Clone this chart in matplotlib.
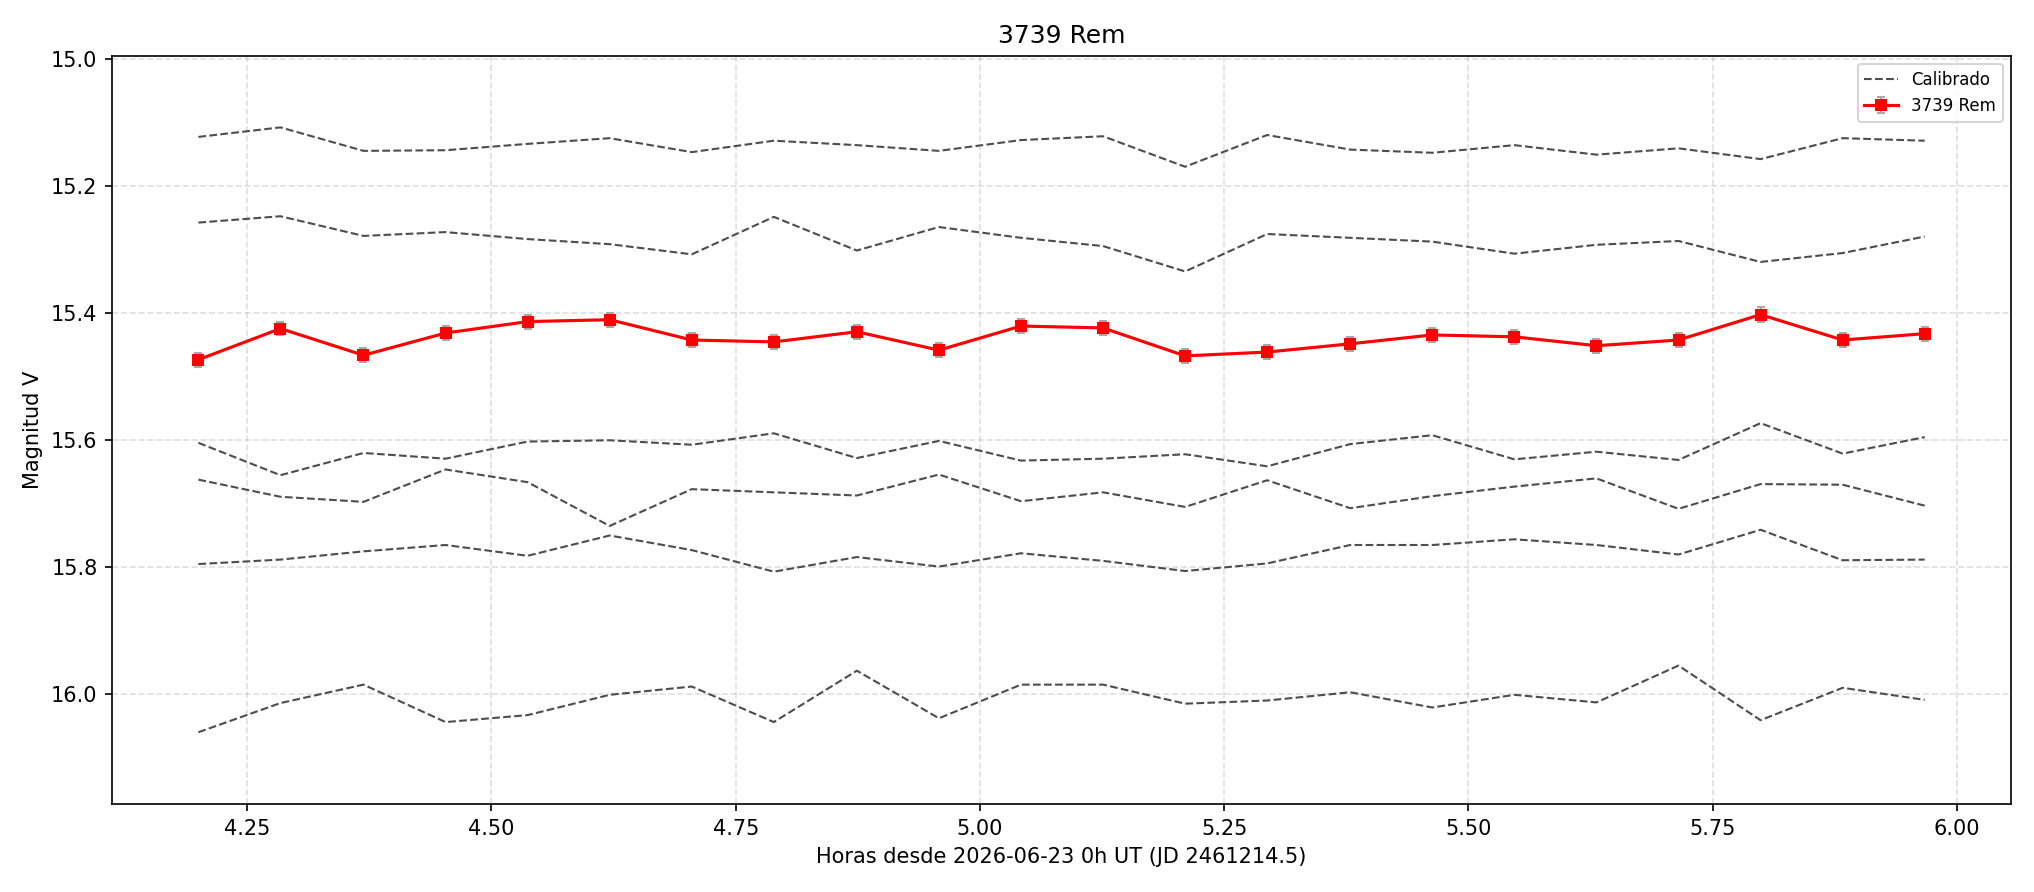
import matplotlib
matplotlib.use("Agg")
import matplotlib.pyplot as plt

hours = [4.200, 4.284, 4.369, 4.453, 4.537, 4.621, 4.705, 4.789, 4.874, 4.958, 5.042,
         5.126, 5.210, 5.294, 5.379, 5.463, 5.547, 5.631, 5.715, 5.799, 5.883, 5.967]

cal1 = [15.123, 15.108, 15.145, 15.144, 15.134, 15.125, 15.147, 15.129, 15.136, 15.145, 15.128,
        15.122, 15.170, 15.120, 15.143, 15.148, 15.136, 15.151, 15.141, 15.158, 15.125, 15.129]
cal2 = [15.258, 15.248, 15.279, 15.273, 15.284, 15.292, 15.308, 15.249, 15.302, 15.265, 15.282,
        15.295, 15.335, 15.276, 15.282, 15.288, 15.307, 15.293, 15.287, 15.320, 15.306, 15.280]
cal3 = [15.605, 15.656, 15.621, 15.630, 15.603, 15.601, 15.608, 15.590, 15.629, 15.602, 15.633,
        15.630, 15.623, 15.642, 15.607, 15.593, 15.631, 15.619, 15.632, 15.574, 15.622, 15.596]
cal4 = [15.663, 15.690, 15.698, 15.647, 15.667, 15.736, 15.678, 15.683, 15.688, 15.655, 15.697,
        15.683, 15.706, 15.664, 15.708, 15.689, 15.674, 15.661, 15.709, 15.670, 15.671, 15.704]
cal5 = [15.796, 15.789, 15.776, 15.766, 15.783, 15.751, 15.774, 15.808, 15.785, 15.800, 15.779,
        15.791, 15.807, 15.795, 15.766, 15.766, 15.757, 15.766, 15.781, 15.742, 15.790, 15.789]
cal6 = [16.061, 16.015, 15.986, 16.045, 16.034, 16.002, 15.989, 16.045, 15.964, 16.039, 15.986,
        15.986, 16.016, 16.011, 15.998, 16.022, 16.002, 16.014, 15.956, 16.042, 15.991, 16.010]

rem = [15.474, 15.425, 15.467, 15.432, 15.414, 15.411, 15.443, 15.446, 15.430, 15.459, 15.421,
       15.424, 15.468, 15.462, 15.449, 15.435, 15.438, 15.452, 15.443, 15.403, 15.443, 15.433]
rem_err = [0.011, 0.0105, 0.011, 0.011, 0.011, 0.011, 0.011, 0.011, 0.011, 0.011, 0.0105,
           0.011, 0.011, 0.011, 0.011, 0.011, 0.011, 0.011, 0.011, 0.0113, 0.011, 0.011]

title = "3739 Rem"
xlabel = "Horas desde 2026-06-23 0h UT (JD 2461214.5)"
ylabel = "Magnitud V"

fig = plt.figure(figsize=(2034 / 150, 892 / 150), dpi=150)
ax = fig.add_axes([0.0551, 0.0987, 0.9887 - 0.0551, 0.9376 - 0.0987])

for i, c in enumerate([cal1, cal2, cal3, cal4, cal5, cal6]):
    ax.plot(hours, c, linestyle='--', color='0.3', linewidth=1.0,
            label='Calibrado' if i == 0 else None, zorder=2)

ax.errorbar(hours, rem, yerr=rem_err, fmt='-s', color='red', ecolor='#aaaaaa',
            elinewidth=1.0, capsize=2, markersize=5, linewidth=1.5,
            label='3739 Rem', zorder=3)

ax.set_ylim(16.174, 14.995)
ax.grid(True, linestyle='--', alpha=0.4)
ax.set_title(title, fontsize=12)
ax.set_xlabel(xlabel, fontsize=10)
ax.set_ylabel(ylabel, fontsize=10)
ax.legend(loc='upper right', fontsize=8)

fig.savefig("out.png", dpi=150)
